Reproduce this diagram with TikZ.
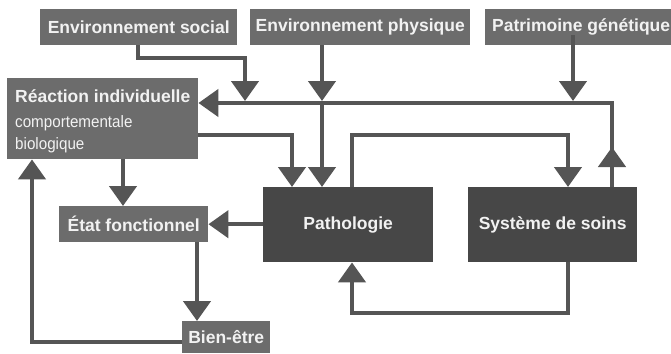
\documentclass[tikz,border=0pt]{standalone}
\usepackage{fontspec}
\setmainfont{Liberation Sans}
\newfontfamily\narrowreg[FakeStretch=0.92]{Liberation Sans}
\usetikzlibrary{arrows.meta}
\definecolor{boxmid}{HTML}{6C6C6C}
\definecolor{boxdark}{HTML}{474747}
\definecolor{linecol}{HTML}{555555}
\definecolor{txtcol}{HTML}{F2F2F2}
\tikzset{
  box/.style={fill=boxmid, text=txtcol, inner sep=0pt, anchor=north west, font=\fontsize{17.5}{21}\selectfont\bfseries},
  darkbox/.style={box, fill=boxdark},
  reatext/.style={anchor=base west, inner sep=0pt, text=txtcol, font=\narrowreg\fontsize{16.5}{20}\selectfont},
  conn/.style={draw=linecol, line width=4.5pt, -{Triangle[width=27pt,length=20pt]}},
  plain/.style={draw=linecol, line width=4.5pt}
}
\begin{document}
\begin{tikzpicture}[x=1pt,y=-1pt]
\useasboundingbox (0,0) rectangle (671,353);
% boxes
\node[box, minimum width=197pt, minimum height=36pt] (es) at (40,9) {Environnement social};
\node[box, minimum width=220pt, minimum height=36pt] (ep) at (250,9) {Environnement physique};
\fill[boxmid] (485,9) rectangle (671,45);
\node[box, anchor=west, fill=none] (pg) at (492,27) {Patrimoine génétique};
\node[box, minimum width=191pt, minimum height=81pt] (rea) at (7,78) {};
\node[anchor=base west, inner sep=0pt, text=txtcol, font=\fontsize{17.5}{21}\selectfont\bfseries] (rea1) at (15,102) {Réaction individuelle};
\node[reatext] (rea2) at (15,127) {comportementale};
\node[reatext] (rea3) at (15,149) {biologique};
\node[box, minimum width=149pt, minimum height=36pt] (et) at (59,206) {État fonctionnel};
\node[box, minimum width=88pt, minimum height=32pt] (be) at (182,321) {Bien-être};
\node[darkbox, minimum width=170pt, minimum height=75pt] (pa) at (263,187) {Pathologie};
\node[darkbox, minimum width=169pt, minimum height=75pt] (sy) at (468,187) {Système de soins};
% junction coordinates
\coordinate (jright) at (612,103);
\coordinate (jup) at (612,147);
\coordinate (jes) at (245,101);
\coordinate (jep) at (322,101);
\coordinate (jpg) at (573,101);
% connectors
\draw[plain] (sy.north -| jright) -- (jright);
\draw[conn] (sy.north -| jright) -- (jup);
\draw[conn] ([yshift=2.25pt]jright) -- (jright) -- (rea.east |- jright);
\draw[conn] (es.south -| 138,0) |- (245,58) -- (jes);
\draw[conn] (ep.south -| jep) -- (jep);
\draw[conn] (jep) -- (pa.north -| jep);
\draw[conn] (pg.south -| jpg) -- (jpg);
\draw[conn] (rea.east |- 0,135) -| (pa.north -| 292,0);
\draw[conn] (rea.south -| 123,0) -- (et.north -| 123,0);
\draw[conn] (pa.west |- et.east) -- (et.east);
\draw[conn] (et.south -| 197,0) -- (be.north -| 197,0);
\draw[conn] (be.west |- 0,342) -| (rea.south -| 32,0);
\draw[conn] (pa.north -| 352,0) |- (568,135) -- (sy.north -| 568,0);
\draw[conn] (sy.south -| 568,0) |- (352,313) -- (pa.south -| 352,0);
\end{tikzpicture}
\end{document}
